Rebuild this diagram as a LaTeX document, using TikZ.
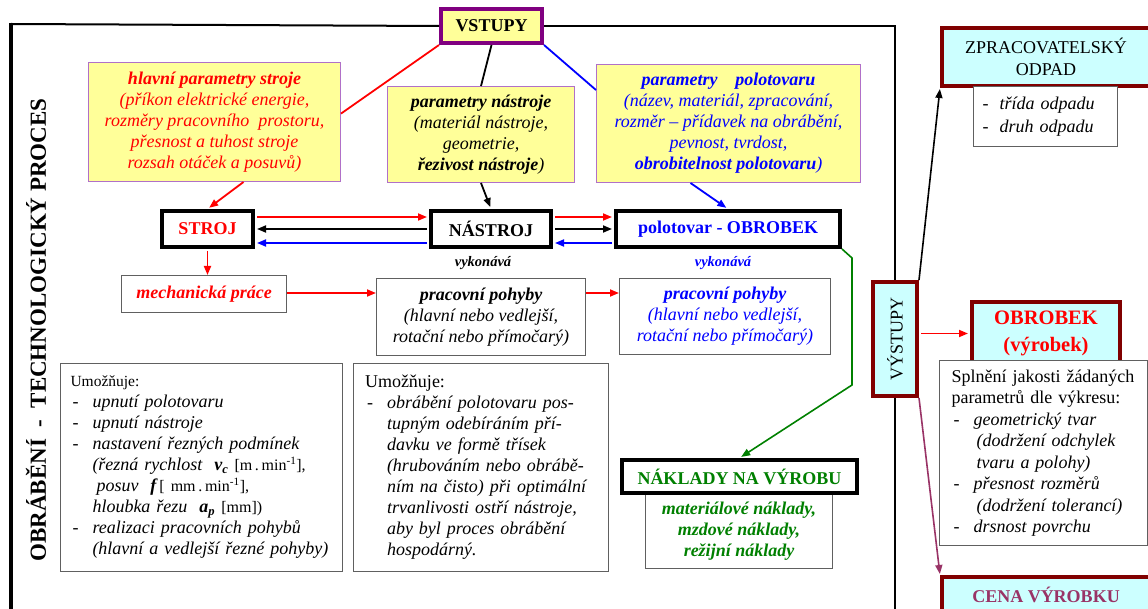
\documentclass[tikz,border=0pt]{standalone}
\usepackage{fontspec}
\setmainfont{Liberation Serif}
\usetikzlibrary{arrows.meta,calc}
\definecolor{yel}{HTML}{FFFF99}
\definecolor{yelb}{HTML}{B070C8}
\definecolor{vstb}{HTML}{800080}
\definecolor{dred}{HTML}{800000}
\definecolor{cyanf}{HTML}{CCFFFF}
\definecolor{grn}{HTML}{008000}
\definecolor{purp}{HTML}{993366}
\definecolor{bblue}{HTML}{0000FF}
\definecolor{gbord}{HTML}{606060}
\newcommand{\fsz}[2]{\fontsize{#1pt}{#2pt}\selectfont}
\newcommand{\itm}[1][22pt]{\makebox[#1][l]{\upshape\hspace{2pt}-}}
\newcommand{\indt}[1][22pt]{\hspace*{#1}}
\newcommand{\supm}{\smash{\textsuperscript{-1}}}
\begin{document}
\begin{tikzpicture}[x=1pt,y=-1pt,
  box/.style={inner sep=0pt, anchor=north west, align=center},
  yelbox/.style={box, draw=yelb, fill=yel, line width=1pt, font=\fsz{18}{21}\itshape},
  thickbox/.style={box, draw=black, fill=white, line width=4pt, font=\fsz{18}{21}\bfseries},
  wbox/.style={box, draw=gbord, fill=white, line width=1pt},
  cbox/.style={box, draw=dred, fill=cyanf, line width=4pt},
  con/.style={line width=1.8pt},
  tip/.style={con, -{Triangle[length=9pt,width=7pt]}},
  tb/.style={shorten <=2pt, shorten >=2pt}
]
\path[use as bounding box] (0,0) rectangle (1148,609);
\clip (0,0) rectangle (1148,609);

% ---- frame anchors
\coordinate (fTL) at (11,24);
\coordinate (fBL) at (11,630);

% ---- top inputs
\node[box, draw=vstb, fill=yel, line width=4pt, minimum width=101pt, minimum height=34pt,
      font=\fsz{18}{21}\bfseries] (vstupy) at (439,7) {VSTUPY};

\node[yelbox, text=red, minimum width=252pt, minimum height=119pt] (hlavni) at (88,62)
 {\textbf{hlavní parametry stroje}\\(příkon elektrické energie,\\rozměry pracovního\ \ prostoru,\\přesnost a tuhost stroje\\rozsah otáček a posuvů)};

\node[yelbox, text=black, minimum width=187pt, minimum height=96pt] (nastrojpar) at (387,86)
 {\textbf{parametry nástroje}\\(materiál nástroje,\\geometrie,\\\textbf{řezivost nástroje})};

\node[yelbox, text=bblue, minimum width=264pt, minimum height=118pt] (polpar) at (596,64)
 {\textbf{parametry\ \ \ \ polotovaru}\\(název, materiál, zpracování,\\rozměr – přídavek na obrábění,\\pevnost, tvrdost,\\\textbf{obrobitelnost polotovaru})};

% ---- main row
\node[thickbox, text=red, minimum width=91pt, minimum height=36pt] (stroj) at (160,209) {STROJ};
\node[thickbox, text=black, minimum width=120pt, minimum height=36pt] (nastroj) at (429,209) {NÁSTROJ};
\node[thickbox, text=bblue, minimum width=224pt, minimum height=36pt] (obrobek) at (614,209) {polotovar - OBROBEK};

\node[font=\fsz{14.5}{16}\bfseries\itshape, text=black] (vyk1) at (483,263) {vykonává};
\node[font=\fsz{14.5}{16}\bfseries\itshape, text=bblue] (vyk2) at (723,263) {vykonává};

% ---- work row
\node[wbox, text=red, font=\fsz{18}{21}\bfseries\itshape, minimum width=165pt, minimum height=37pt] (mech) at (121,275) {mechanická práce};
\node[wbox, text=black, font=\fsz{18}{21}\itshape, minimum width=209pt, minimum height=77pt] (pohyby1) at (376,278)
 {\textbf{pracovní pohyby}\\(hlavní nebo vedlejší,\\rotační nebo přímočarý)};
\node[wbox, text=bblue, font=\fsz{18}{21}\itshape, minimum width=211pt, minimum height=76pt] (pohyby2) at (619,278)
 {\textbf{pracovní pohyby}\\(hlavní nebo vedlejší,\\rotační nebo přímočarý)};

% ---- lower boxes
\node[wbox, align=left, text width=262pt, font=\fsz{18}{21}\itshape, minimum width=282pt, minimum height=208pt] (umoz1) at (60,363)
 {\mbox{\upshape\fsz{15.5}{21}Umožňuje:}\\
  \itm upnutí polotovaru\\
  \itm upnutí nástroje\\
  \itm nastavení řezných podmínek\\
  \indt\mbox{(řezná rychlost\ \ \textbf{v\smash{\textsubscript{c}}} {\upshape\fsz{16}{21}[m\,.\,min\supm],}}\\
  \indt[26pt]\mbox{posuv\ \ \textbf{f}\,{\upshape\fsz{16}{21}[ mm\,.\,min\supm],}}\\
  \indt\mbox{hloubka řezu\ \ \textbf{a\smash{\textsubscript{p}}} {\upshape\fsz{16}{21}[mm])}}\\
  \itm realizaci pracovních pohybů\\
  \indt\mbox{(hlavní a vedlejší řezné pohyby)}};

\node[wbox, align=left, text width=232pt, font=\fsz{18}{21}\itshape, minimum width=255pt, minimum height=208pt] (umoz2) at (353,363)
 {\mbox{\upshape Umožňuje:}\\
  \itm\makebox[198pt][s]{obrábění polotovaru pos-}\\
  \indt\makebox[198pt][s]{tupným odebíráním pří-}\\
  \indt\makebox[198pt][s]{davku ve formě třísek}\\
  \indt\makebox[198pt][s]{(hrubováním nebo obrábě-}\\
  \indt\makebox[198pt][s]{ním na čisto) při optimální}\\
  \indt\makebox[198pt][s]{trvanlivosti ostří nástroje,}\\
  \indt\makebox[198pt][s]{aby byl proces obrábění}\\
  \indt hospodárný.};

\node[wbox, text=grn, font=\fsz{18}{21}\bfseries\itshape, minimum width=187pt, minimum height=75pt] (nakladysub) at (645,493)
 {materiálové náklady,\\mzdové náklady,\\režijní náklady};
\node[thickbox, text=grn, minimum width=235pt, minimum height=33pt] (naklady) at (620,458) {NÁKLADY NA VÝROBU};

% ---- title
\node[rotate=90, font=\fsz{23}{26}\bfseries] (title) at (36,330) {OBRÁBĚNÍ\ \ -\ \ TECHNOLOGICKÝ PROCES};

% ---- outputs
\node[cbox, font=\fsz{18}{22}, minimum width=44pt, minimum height=114pt] (vystupy) at (871,280) {\rotatebox{90}{VÝSTUPY}};

\node[cbox, font=\fsz{18}{22}, minimum width=208pt, minimum height=58pt] (zprac) at (940,26) {ZPRACOVATELSKÝ\\ODPAD};
\node[wbox, align=left, text width=130pt, font=\fsz{18}{23}\itshape, minimum width=144pt, minimum height=60pt] (zpracsub) at (973,86)
 {\itm[19pt]třída odpadu\\\itm[19pt]druh odpadu};

\node[cbox, text=red, font=\fsz{20.5}{27}\bfseries, minimum width=148pt, minimum height=63pt] (obrobekout) at (970,300) {OBROBEK\\(výrobek)};
\node[wbox, align=left, text width=184pt, font=\fsz{18}{21.5}, minimum width=208pt, minimum height=185pt] (splneni) at (939,360)
 {\mbox{Splnění jakosti žádaných}\\
  \mbox{parametrů dle výkresu:}\\
  \itm\textit{geometrický tvar}\\
  \indt[25pt]\mbox{\textit{(dodržení odchylek}}\\
  \indt[25pt]\mbox{\textit{tvaru a polohy)}}\\
  \itm\textit{přesnost rozměrů}\\
  \indt[25pt]\mbox{\textit{(dodržení tolerancí)}}\\
  \itm\textit{drsnost povrchu}};

\node[cbox, text=purp, font=\fsz{18}{21}\bfseries, minimum width=208pt, minimum height=36pt] (cena) at (940,575) {CENA VÝROBKU};

% ---- frame
\draw[line width=2pt] (vstupy.west) -- (fTL);
\draw[line width=4pt] ($(fTL)+(0,-1)$) -- (fBL);
\draw[line width=1.5pt] (vstupy.east) -| (vystupy.north);
\draw[line width=1.5pt] (vystupy.south) -- (vystupy.south |- fBL);

% ---- connectors from inputs
\draw[con, red] (vstupy.south west) -- ($(hlavni.north east)!0.43!(hlavni.south east)$);
\draw[con, black] (vstupy.south) -- (nastrojpar.north);
\draw[con, bblue] (vstupy.south east) -- ($(polpar.north west)+(0,26)$);

\draw[tip, red, shorten >=2pt] ($(hlavni.south)+(29,0)$) -- (stroj.north);
\draw[tip, black, shorten >=2pt] (nastrojpar.south) -- (nastroj.north);
\draw[tip, bblue, shorten >=2pt] ($(polpar.south)+(-38,0)$) -- (obrobek.north);

% ---- horizontal arrows
\draw[tip, tb, red] ($(stroj.east)+(0,-12)$) -- ($(nastroj.west)+(0,-12)$);
\draw[tip, tb, black] (nastroj.west) -- (stroj.east);
\draw[tip, tb, bblue] ($(nastroj.west)+(0,14)$) -- ($(stroj.east)+(0,14)$);
\draw[tip, tb, red] ($(nastroj.east)+(0,-12)$) -- ($(obrobek.west)+(0,-12)$);
\draw[tip, tb, black] (nastroj.east) -- (obrobek.west);
\draw[tip, tb, bblue] ($(obrobek.west)+(0,14)$) -- ($(nastroj.east)+(0,14)$);

% ---- work row arrows
\draw[tip, red, shorten <=2pt] (stroj.south) -- (stroj.south |- mech.north);
\draw[tip, red] ($(mech.east)+(0,-1)$) -- ($(mech.east -| pohyby1.west)+(0,-1)$);
\draw[tip, red] ($(mech.east -| pohyby1.east)+(0,-1)$) -- ($(mech.east -| pohyby2.west)+(0,-1)$);

% ---- costs
\coordinate (g1) at (852,258);
\coordinate (g2) at (852,385);
\draw[tip, grn, line width=1.6pt, shorten >=2pt] (obrobek.south east) -- (g1) -- (g2) -- (naklady.north);

% ---- outputs arrows
\draw[tip, black, line width=1.6pt, shorten >=1pt] (vystupy.north east) -- (zprac.south west);
\draw[tip, red, shorten <=2pt, shorten >=2pt] (obrobekout.west -| vystupy.east) -- (obrobekout.west);
\draw[tip, purp, line width=1.6pt, shorten >=1pt] (vystupy.south east) -- (cena.north west);
\end{tikzpicture}
\end{document}
